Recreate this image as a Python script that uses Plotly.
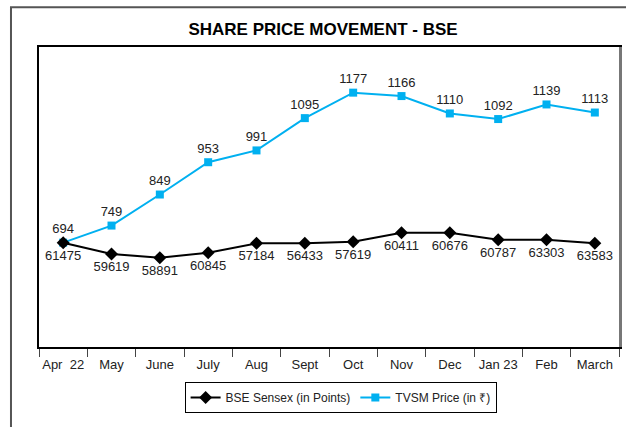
import plotly.graph_objects as go

months = ["Apr  22", "May", "June", "July", "Aug", "Sept", "Oct", "Nov", "Dec", "Jan 23", "Feb", "March"]
tvsm_price = [694, 749, 849, 953, 991, 1095, 1177, 1166, 1110, 1092, 1139, 1113]
bse_labels = [61475, 59619, 58891, 60845, 57184, 56433, 57619, 60411, 60676, 60787, 63303, 63583]
# plotted level of the BSE line (secondary scale)
bse_level = [60860, 58600, 57860, 58860, 60740, 60740, 61060, 62860, 62860, 61460, 61460, 60740]

FONT = "Liberation Sans, Arial, sans-serif"
BLUE = "#00B0F0"

fig = go.Figure()
fig.add_trace(go.Scatter(
    x=months, y=bse_level, yaxis="y2", name="BSE Sensex (in Points)",
    mode="lines+markers+text", text=[str(v) for v in bse_labels],
    textposition="bottom center", textfont=dict(size=13, color="#222222", family=FONT),
    line=dict(color="black", width=2), marker=dict(symbol="diamond", size=10, color="black"),
    cliponaxis=False,
))
fig.add_trace(go.Scatter(
    x=months, y=tvsm_price, yaxis="y", name="TVSM Price (in ₹)",
    mode="lines+markers+text", text=[str(v) for v in tvsm_price],
    textposition="top center", textfont=dict(size=13, color="#222222", family=FONT),
    line=dict(color=BLUE, width=2), marker=dict(symbol="square", size=8, color=BLUE),
    cliponaxis=False,
))

fig.update_layout(
    width=626, height=427,
    margin=dict(l=39, r=7, t=47, b=80, autoexpand=False),
    paper_bgcolor="white", plot_bgcolor="white",
    font=dict(family=FONT, size=13, color="#222222"),
    title=dict(text="<b>SHARE PRICE MOVEMENT - BSE</b>", x=0.516, xref="container",
               xanchor="center", y=1 - 29 / 427, yref="container", yanchor="middle",
               font=dict(size=17, color="black", family=FONT)),
    xaxis=dict(type="category", range=[-0.5, 11.5], showline=True, linecolor="black",
               linewidth=2, mirror=True, ticks="outside", tickson="boundaries",
               ticklen=8, tickcolor="#444", showgrid=False, zeroline=False,
               tickangle=0, automargin=False, ticklabelstandoff=4,
               tickfont=dict(size=13, color="#222222")),
    yaxis=dict(range=[358, 1324], showticklabels=False, showgrid=False, zeroline=False,
               showline=True, linecolor="black", linewidth=2, ticks="", automargin=False),
    yaxis2=dict(range=[40000, 100000], overlaying="y", side="right", showticklabels=False,
                showgrid=False, zeroline=False, showline=True, linecolor="#777",
                linewidth=3, ticks="", automargin=False),
    legend=dict(orientation="h", x=0.52, xanchor="center", y=-0.168, yanchor="middle",
                bordercolor="black", borderwidth=1, font=dict(size=12, color="#222222"),
                bgcolor="white", itemwidth=30, tracegroupgap=0),
    showlegend=True,
    shapes=[dict(type="rect", xref="paper", yref="paper", x0=-0.0483, x1=1.03,
                 y0=-0.3, y1=1.1323, line=dict(color="#555555", width=2), layer="below")],
)

fig.write_html("out.html", config={"displayModeBar": False},
               post_script="document.body.style.margin='0';")
